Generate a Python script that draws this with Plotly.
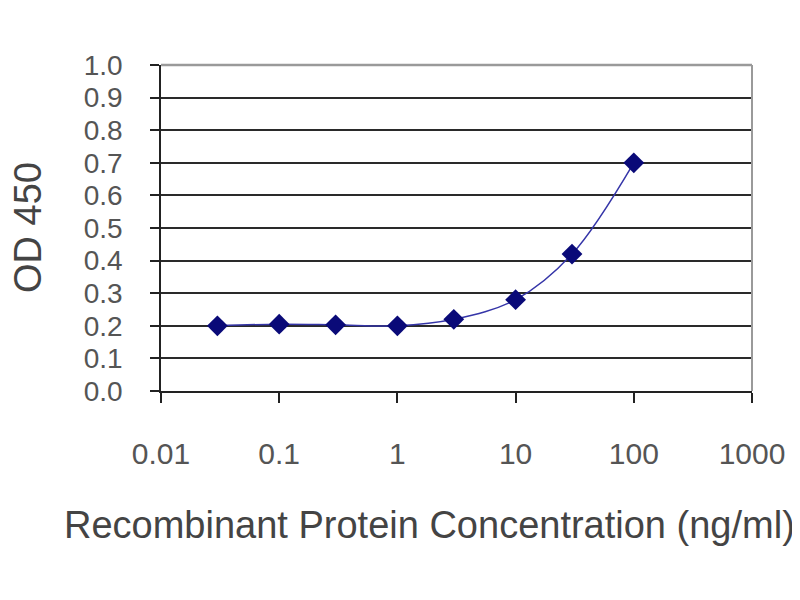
import plotly.graph_objects as go

concentration = [0.03, 0.1, 0.3, 1, 3, 10, 30, 100]
od450 = [0.20, 0.205, 0.203, 0.20, 0.22, 0.28, 0.42, 0.70]

x_ticks = [0.01, 0.1, 1, 10, 100, 1000]
x_tick_labels = ["0.01", "0.1", "1", "10", "100", "1000"]
y_ticks = [0.0, 0.1, 0.2, 0.3, 0.4, 0.5, 0.6, 0.7, 0.8, 0.9, 1.0]
y_tick_labels = ["0.0", "0.1", "0.2", "0.3", "0.4", "0.5", "0.6", "0.7", "0.8", "0.9", "1.0"]
x_title = "Recombinant Protein Concentration (ng/ml)"
y_title = "OD 450"

FONT = "Liberation Sans, Arial, sans-serif"

fig = go.Figure()
fig.add_trace(go.Scatter(
    x=concentration, y=od450, mode="lines+markers",
    line=dict(color="#3535a8", width=1.5, shape="spline", smoothing=1.0),
    marker=dict(symbol="diamond", size=16, color="#0a0a78"),
    showlegend=False,
))

fig.update_layout(
    width=792, height=592,
    margin=dict(l=153, r=48, t=57, b=209),
    paper_bgcolor="white", plot_bgcolor="white",
    font=dict(family=FONT, color="#4a4a4a"),
    xaxis=dict(
        type="log", range=[-2, 3],
        tickvals=x_ticks, ticktext=x_tick_labels,
        ticks="outside", ticklen=10, tickwidth=1.5, tickcolor="#222",
        showline=True, linecolor="#222", linewidth=2,
        showgrid=False, zeroline=False,
        tickfont=dict(size=30, color="#555"),
        ticklabelstandoff=25,
    ),
    yaxis=dict(
        range=[0, 1],
        tickvals=y_ticks, ticktext=y_tick_labels,
        ticks="outside", ticklen=9, tickwidth=1.5, tickcolor="#222",
        showline=True, linecolor="#222", linewidth=1.5,
        showgrid=True, gridcolor="#2a2a2a", gridwidth=2.2,
        zeroline=False,
        tickfont=dict(size=28, color="#555"),
        ticklabelstandoff=22,
    ),
    shapes=[
        dict(type="line", xref="paper", yref="paper", x0=0, x1=1, y0=1, y1=1,
             line=dict(color="#9a9a9a", width=2.5), layer="above"),
        dict(type="line", xref="paper", yref="paper", x0=1, x1=1, y0=0, y1=1,
             line=dict(color="#9a9a9a", width=2), layer="above"),
    ],
    annotations=[
        dict(text=x_title, xref="paper", yref="paper", x=0.455, y=-0.41,
             xanchor="center", yanchor="middle", showarrow=False,
             font=dict(size=38, color="#444")),
        dict(text=y_title, xref="paper", yref="paper", x=-0.225, y=0.5,
             xanchor="center", yanchor="middle", showarrow=False, textangle=-90,
             font=dict(size=38, color="#444")),
    ],
)

fig.write_html("out.html")
